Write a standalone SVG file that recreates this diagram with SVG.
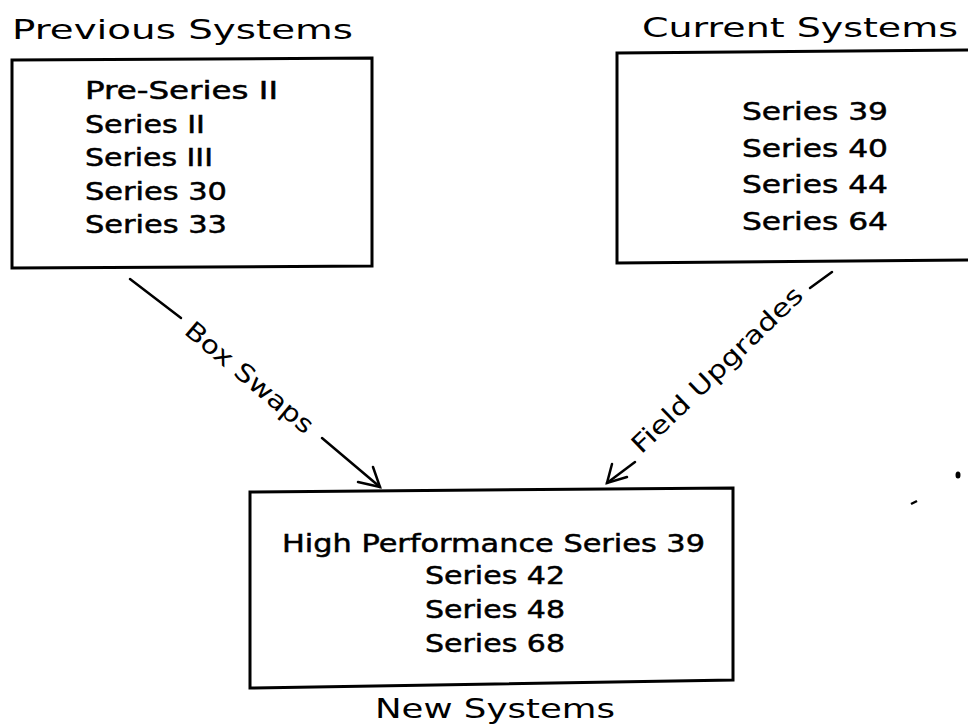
<svg xmlns="http://www.w3.org/2000/svg" width="968" height="724" viewBox="0 0 968 724">
<style>
  text { font-family: "DejaVu Sans", "Liberation Sans", sans-serif; fill: #000; }
  .title { font-size: 27px; }
  .item { font-size: 24px; stroke: #000; stroke-width: 0.5px; }
  .item2 { font-size: 25px; stroke: #000; stroke-width: 0.5px; }
  .lbl { font-size: 25px; }
  .box { fill: none; stroke: #000; stroke-width: 3; stroke-linejoin: miter; }
  .conn { fill: none; stroke: #000; stroke-width: 2.5; stroke-linecap: round; }
</style>
<rect width="968" height="724" fill="#fff"/>

<g id="previous">
  <text class="title" x="12" y="39" textLength="341" lengthAdjust="spacingAndGlyphs">Previous Systems</text>
  <polygon class="box" points="12,60 372,58 372,266 12,268"/>
  <text class="item" x="85" y="99" textLength="193" lengthAdjust="spacingAndGlyphs">Pre-Series II</text>
  <text class="item" x="85" y="133" textLength="120" lengthAdjust="spacingAndGlyphs">Series II</text>
  <text class="item" x="85" y="166" textLength="128" lengthAdjust="spacingAndGlyphs">Series III</text>
  <text class="item" x="85" y="200" textLength="142" lengthAdjust="spacingAndGlyphs">Series 30</text>
  <text class="item" x="85" y="233" textLength="142" lengthAdjust="spacingAndGlyphs">Series 33</text>
</g>

<g id="current">
  <text class="title" x="642" y="37" textLength="316" lengthAdjust="spacingAndGlyphs">Current Systems</text>
  <polygon class="box" points="617,53 980,50 980,260 617,263"/>
  <text class="item2" x="742" y="120" textLength="146" lengthAdjust="spacingAndGlyphs">Series 39</text>
  <text class="item2" x="742" y="157" textLength="146" lengthAdjust="spacingAndGlyphs">Series 40</text>
  <text class="item2" x="742" y="193" textLength="146" lengthAdjust="spacingAndGlyphs">Series 44</text>
  <text class="item2" x="742" y="230" textLength="146" lengthAdjust="spacingAndGlyphs">Series 64</text>
</g>

<g id="new">
  <polygon class="box" points="250,492 733,488 733,680 250,688"/>
  <text class="item2" x="282" y="552" textLength="423" lengthAdjust="spacingAndGlyphs">High Performance Series 39</text>
  <text class="item2" x="425" y="584" textLength="140" lengthAdjust="spacingAndGlyphs">Series 42</text>
  <text class="item2" x="425" y="618" textLength="140" lengthAdjust="spacingAndGlyphs">Series 48</text>
  <text class="item2" x="425" y="652" textLength="140" lengthAdjust="spacingAndGlyphs">Series 68</text>
  <text class="title" x="375" y="718" textLength="240" lengthAdjust="spacingAndGlyphs">New Systems</text>
</g>

<g id="connectors">
  <g id="box-swaps">
    <line class="conn" x1="130" y1="279" x2="181" y2="318"/>
    <line class="conn" x1="322" y1="438" x2="380" y2="487"/>
    <polyline class="conn" points="358,482 380,487 373,467"/>
    <text class="lbl" x="244" y="384" text-anchor="middle" textLength="159" lengthAdjust="spacingAndGlyphs" transform="rotate(40 244 384)">Box Swaps</text>
  </g>
  <g id="field-upgrades">
    <line class="conn" x1="832" y1="272" x2="810" y2="288"/>
    <line class="conn" x1="635" y1="462" x2="607" y2="483"/>
    <polyline class="conn" points="612,464 607,483 627,477"/>
    <text class="lbl" x="723" y="376" text-anchor="middle" textLength="227" lengthAdjust="spacingAndGlyphs" transform="rotate(-44 723 376)">Field Upgrades</text>
  </g>
</g>

<ellipse cx="958" cy="475" rx="2.5" ry="3.5" fill="#000"/>
<line x1="911" y1="504" x2="917" y2="501" stroke="#000" stroke-width="2.5"/>
</svg>
